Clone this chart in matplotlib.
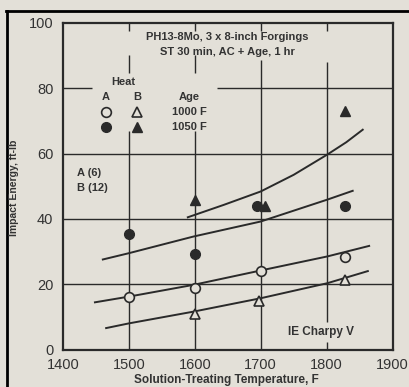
import matplotlib
matplotlib.use("Agg")
import matplotlib.pyplot as plt
from matplotlib.lines import Line2D

temp_a1000 = [1500, 1600, 1700, 1828]
ie_a1000 = [16.0, 18.8, 24.1, 28.2]
temp_b1000 = [1600, 1698, 1828]
ie_b1000 = [10.9, 15.0, 21.3]
temp_a1050 = [1500, 1600, 1695, 1828]
ie_a1050 = [35.3, 29.2, 44.0, 44.0]
temp_b1050 = [1600, 1706, 1828]
ie_b1050 = [45.9, 44.0, 73.2]

# faired curves
curve_b1050_x = [1588, 1644, 1700, 1750, 1801, 1830, 1856]
curve_b1050_y = [40.4, 44.3, 48.4, 53.5, 59.7, 63.5, 67.5]
curve_a1050_x = [1459, 1500, 1598, 1700, 1801, 1841]
curve_a1050_y = [27.5, 29.5, 34.6, 39.2, 45.9, 48.7]
curve_a1000_x = [1447, 1500, 1598, 1700, 1801, 1866]
curve_a1000_y = [14.4, 16.2, 19.8, 24.2, 28.5, 31.8]
curve_b1000_x = [1464, 1500, 1598, 1700, 1801, 1864]
curve_b1000_y = [6.5, 8.0, 11.6, 15.7, 20.3, 24.1]

x_ticks = [1400, 1500, 1600, 1700, 1800, 1900]
y_ticks = [0, 20, 40, 60, 80, 100]

paper = "#e3e0d8"
ink = "#2a2a2a"
txt = "#333333"
plt.rcParams['font.family'] = ['Liberation Sans', 'DejaVu Sans']

fig = plt.figure(figsize=(4.09, 3.87), dpi=100, facecolor=paper)
ax = fig.add_axes([63 / 409, 1 - 349.5 / 387, 329.5 / 409, 326.5 / 387])
ax.set_facecolor(paper)
ax.set_xlim(1400, 1900)
ax.set_ylim(0, 100)

# broken grid lines, as printed
ax.vlines([1500, 1600], 84.8, 90.2, color=ink, lw=1.0)
ax.vlines([1500, 1600], 0, 67.0, color=ink, lw=1.0)
ax.vlines(1700, 0, 88.7, color=ink, lw=1.0)
ax.vlines(1800, 8.4, 88.0, color=ink, lw=1.0)
ax.vlines(1800, 0, 2.2, color=ink, lw=1.0)
ax.vlines([1500, 1600, 1700, 1800], 97.5, 100, color=ink, lw=1.0)
ax.hlines(80, 1400, 1444, color=ink, lw=1.0)
ax.hlines(80, 1633, 1900, color=ink, lw=1.0)
ax.hlines([20, 40, 60], 1400, 1900, color=ink, lw=1.0)

# curves
for cx, cy in [(curve_b1050_x, curve_b1050_y), (curve_a1050_x, curve_a1050_y),
               (curve_a1000_x, curve_a1000_y), (curve_b1000_x, curve_b1000_y)]:
    ax.plot(cx, cy, color=ink, lw=1.4, solid_capstyle='butt')

# data points
ms = 7
ax.plot(temp_a1000, ie_a1000, 'o', ms=ms, mfc=paper, mec=ink, mew=1.2, zorder=5)
ax.plot(temp_b1000, ie_b1000, '^', ms=ms, mfc=paper, mec=ink, mew=1.2, zorder=5)
ax.plot(temp_a1050, ie_a1050, 'o', ms=ms, mfc=ink, mec=ink, zorder=5)
ax.plot(temp_b1050, ie_b1050, '^', ms=ms, mfc=ink, mec=ink, zorder=5)

ax.set_xticks(x_ticks)
ax.set_yticks(y_ticks)
ax.tick_params(length=0, labelsize=10.5, labelcolor=txt)
ax.tick_params(axis='y', pad=7)
ax.tick_params(axis='x', pad=6)
for s in ax.spines.values():
    s.set_linewidth(1.6)
    s.set_color(ink)

# headings inside the plot
tk = dict(color=txt, fontweight='bold', fontsize=8, ha='center', va='center')
ax.text(1650, 95.6, "PH13-8Mo, 3 x 8-inch Forgings", **tk)
ax.text(1650, 91.0, "ST 30 min, AC + Age, 1 hr", **tk)

# key
ax.text(1492, 81.8, "Heat", **tk)
ax.text(1465, 77.2, "A", **tk)
ax.text(1512, 77.2, "B", **tk)
ax.text(1592, 77.2, "Age", **tk)
ax.text(1592, 72.6, "1000 F", **tk)
ax.text(1592, 68.2, "1050 F", **tk)
ax.plot([1465], [72.6], 'o', ms=7, mfc=paper, mec=ink, mew=1.2)
ax.plot([1512], [72.6], '^', ms=7, mfc=paper, mec=ink, mew=1.2)
ax.plot([1465], [68.2], 'o', ms=7, mfc=ink, mec=ink)
ax.plot([1512], [68.2], '^', ms=7, mfc=ink, mec=ink)

ax.text(1421, 54.0, "A (6)", color=txt, fontweight='bold', fontsize=8, va='center')
ax.text(1421, 49.4, "B (12)", color=txt, fontweight='bold', fontsize=8, va='center')
ax.text(1792, 5.3, "IE Charpy V", color=txt, fontweight='bold', fontsize=8.5,
        ha='center', va='center')

fig.text(14 / 409, 1 - 188 / 387, "Impact Energy, ft-lb", rotation=90, color=txt,
         fontweight='bold', fontsize=7.5, ha='center', va='center')
fig.text(226 / 409, 1 - 380 / 387, "Solution-Treating Temperature, F", color=txt,
         fontweight='bold', fontsize=8.5, ha='center', va='center')

# page border
fig.add_artist(Line2D([6 / 409, 1], [1 - 11 / 387] * 2, color='black', lw=2.0))
fig.add_artist(Line2D([6.5 / 409] * 2, [0, 1 - 11 / 387], color='black', lw=2.0))

fig.savefig("out.png", dpi=100, facecolor=paper)
